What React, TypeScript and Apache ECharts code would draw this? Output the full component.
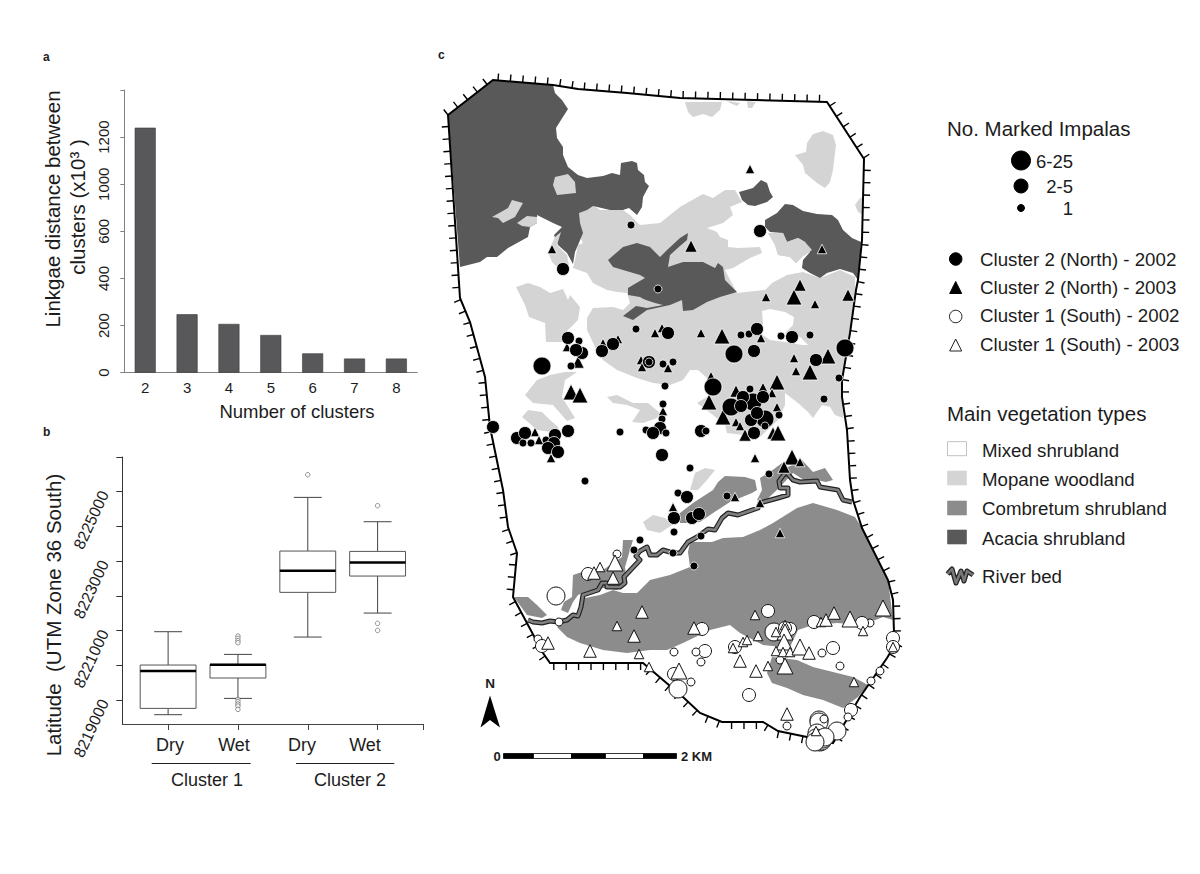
import React, { useEffect, useRef } from "react";
import * as echarts from "echarts";

const FONT = "'Liberation Sans', Arial, sans-serif";
const INK = "#1c1c1c";

// ---------- panel a ----------
const clusterCounts = ["2", "3", "4", "5", "6", "7", "8"];
const linkageValues = [1240, 248, 207, 160, 82, 60, 60];
// The printed axis skips 800: 0, 200, 400, 600, 1000, 1200
const linkageTickLabels = ["0", "200", "400", "600", "1000", "1200", ""];
const printedToAxis = (v: number) => (v > 800 ? v - 200 : v);

// ---------- panel b ---------- [x, low, q1, median, q3, high]
const boxStats = [
  [1, 8218578, 8218760, 8219835, 8220008, 8220968],
  [2, 8219048, 8219634, 8220018, 8220027, 8220315],
  [3, 8220814, 8222101, 8222725, 8223291, 8224837],
  [4, 8221505, 8222571, 8222965, 8223281, 8224136],
];
const boxOutliers = [
  [2, 8220843], [2, 8220776], [2, 8220709], [2, 8220651],
  [2, 8219019], [2, 8218952], [2, 8218885], [2, 8218827], [2, 8218731],
  [3, 8225489], [4, 8224597], [4, 8221208], [4, 8221006],
];
const latitudeTicks = [8219000, 8220000, 8221000, 8222000, 8223000, 8224000, 8225000, 8226000];
const latitudeLabels = [8219000, 8221000, 8223000, 8225000];

// ---------- panel c: map outlines, read in page pixels ----------
const boundary = [
  [448,115],[493,80],[553,85],[578,89],[627,93],[680,98],[827,102],[864,159],[862,240],[858,280],[856,290],
  [850,333],[842,380],[842,397],[847,430],[850,480],[853,500],[862,528],[888,580],[893,600],[894,633],[896,643],
  [887,658],[860,697],[833,743],[807,737],[778,731],[763,722],[722,722],[700,713],[683,697],[643,663],[550,663],
  [543,653],[513,597],[517,553],[508,527],[503,490],[490,427],[485,377],[470,322],[460,298],
];
const acaciaMain = [
  [448,115],[493,80],[553,85],[555,93],[562,100],[568,109],[561,120],[556,128],[557,138],[563,147],[563,155],
  [568,167],[578,175],[587,178],[603,176],[612,173],[620,175],[621,163],[632,161],[637,163],[638,170],[644,175],
  [645,182],[649,186],[643,197],[642,207],[637,215],[629,208],[623,210],[610,210],[593,206],[587,210],[579,213],
  [580,223],[583,233],[578,245],[575,252],[573,264],[567,253],[558,245],[554,235],[562,227],[553,223],[537,215],
  [537,223],[530,227],[528,237],[508,248],[497,257],[487,257],[480,262],[460,267],
];
const acaciaCentral = [
  [608,260],[623,247],[637,243],[650,247],[660,257],[667,250],[680,238],[688,233],[687,240],[680,246],[670,255],
  [668,267],[683,262],[703,262],[715,268],[718,263],[723,267],[725,280],[737,292],[720,297],[707,302],[693,310],
  [683,311],[682,300],[670,305],[647,310],[633,320],[623,316],[636,306],[650,303],[640,297],[628,295],[628,288],
  [633,285],[645,278],[640,275],[623,270],[613,267],
];
const acaciaSmall = [
  [739,192],[753,188],[761,180],[767,183],[770,192],[773,197],[767,202],[755,206],[748,205],[742,200],
];
const acaciaEast = [
  [765,220],[777,213],[785,204],[793,205],[803,211],[817,214],[832,215],[838,220],[843,230],[852,238],[861,242],
  [858,280],[853,273],[840,269],[827,273],[820,278],[810,273],[802,268],[803,260],[810,252],[805,242],[798,238],
  [787,242],[783,233],[770,232],[765,227],
];
const mopaneCore = [
  [578,213],[593,205],[600,210],[623,210],[630,215],[640,225],[660,223],[680,207],[685,204],[703,194],[713,198],
  [725,190],[735,190],[742,202],[730,207],[733,215],[723,223],[707,228],[717,232],[720,237],[728,240],[728,247],
  [738,248],[760,247],[762,253],[750,258],[733,268],[725,270],[737,293],[765,290],[772,283],[787,275],[803,272],
  [820,278],[840,270],[855,277],[855,290],[849,333],[842,380],[843,418],[835,415],[830,407],[822,405],[813,418],
  [808,412],[798,403],[785,393],[785,405],[778,420],[760,437],[727,433],[725,425],[713,415],[697,403],[715,392],
  [707,378],[698,370],[690,370],[683,380],[670,385],[653,383],[637,378],[617,370],[603,360],[595,347],[587,330],
  [587,318],[593,308],[613,307],[623,310],[630,303],[627,293],[617,292],[607,290],[593,283],[587,273],[573,268],
  [575,260],[578,245],[583,243],[578,233],
];
const mopaneWest = [
  [516,287],[528,283],[540,287],[550,293],[563,289],[568,300],[570,295],[580,307],[578,320],[565,333],[567,342],
  [546,342],[545,323],[529,317],[525,305],
];
const mopaneWest2 = [
  [537,380],[550,375],[565,372],[577,372],[565,380],[562,397],[575,418],[567,421],[553,405],[533,403],[525,395],
];
const mopaneWest3 = [[522,417],[528,410],[542,412],[548,418],[558,427],[559,433],[537,430],[528,422]];
const mopaneMid = [
  [607,397],[617,395],[633,403],[648,403],[660,413],[657,418],[643,423],[632,422],[640,410],[627,405],[613,403],
];
const mopaneSouth = [[643,522],[653,515],[665,518],[672,525],[660,533],[647,530]];
const mopaneSouth2 = [[690,490],[695,473],[705,468],[715,470],[707,480],[698,490]];
const mopaneIsle1 = [[768,233],[783,233],[787,242],[798,238],[805,242],[812,250],[802,257],[796,263],[790,257],[778,255],[775,245]];
const mopaneNorth1 = [[685,102],[722,102],[720,110],[712,117],[703,114],[693,117],[688,112]];
const mopaneNorth2 = [[727,101],[740,103],[737,106],[730,103]];
const mopaneNorth3 = [[747,101],[756,102],[752,108],[748,108]];
const mopaneNE = [
  [795,155],[806,152],[807,143],[813,134],[823,131],[833,135],[836,145],[833,170],[830,182],[825,188],[817,183],
  [805,173],[803,165],
];
const mopaneEdge = [[860,198],[864,197],[863,215],[858,212],[855,205]];
// mopane patches that sit on top of the acacia
const isleA = [[555,177],[568,174],[575,182],[576,193],[557,195],[553,185]];
const isleB = [[492,217],[508,208],[512,200],[523,203],[515,217],[503,223],[498,218]];
const isleC = [[517,223],[527,216],[537,217],[537,223],[530,227],[522,226]];
const isleD = [[548,252],[555,237],[561,232],[557,245],[567,255],[569,265],[557,267],[552,262]];
const isleE = [[637,297],[655,303],[663,305],[647,308],[636,306]];
const shrubHole = [
  [762,311],[770,309],[785,312],[794,317],[793,325],[785,333],[800,337],[808,345],[802,345],[785,342],[770,340],
  [760,333],[763,323],
];
const combretumMain = [
  [862,528],[855,517],[837,510],[813,503],[797,508],[773,523],[760,530],[743,537],[723,538],[712,542],[690,542],
  [688,552],[690,567],[670,575],[650,580],[637,593],[623,593],[613,590],[600,595],[585,598],[580,612],[557,627],
  [567,637],[580,643],[603,650],[627,653],[650,650],[667,650],[683,643],[710,630],[730,625],[740,633],[763,645],
  [782,647],[790,647],[798,630],[813,625],[837,623],[863,625],[883,617],[893,620],[888,580],
];
const combretumLower = [
  [772,657],[767,673],[772,683],[787,688],[803,695],[823,700],[843,708],[858,697],[868,685],[853,677],[833,672],
  [813,667],[797,660],
];
const combretumWest = [[514,597],[528,597],[537,605],[547,615],[542,618],[527,615]];
const combretumRiver = [
  [573,575],[585,571],[603,570],[613,563],[622,557],[623,540],[633,540],[630,550],[625,567],[627,583],[617,590],
  [603,588],[585,592],[578,595],[573,602],[568,613],[561,610],[564,602],[572,597],
];
const combretumNorth = [
  [713,490],[718,482],[725,476],[745,477],[755,480],[757,490],[752,493],[730,502],[713,513],[700,522],[687,523],
  [680,523],[680,513],[693,503],
];
const combretumNorth2 = [
  [760,478],[770,472],[782,463],[788,467],[802,460],[813,472],[825,468],[833,480],[826,482],[817,480],[807,482],
  [793,473],[780,487],[763,503],[757,500],[762,490],
];
const riverBed = [
  [528,620],[533,622],[542,623],[550,621],[558,622],[567,620],[573,615],[578,616],[581,607],[583,595],[598,590],
  [602,583],[607,583],[607,587],[620,587],[625,583],[624,577],[640,560],[636,556],[640,551],[647,547],[650,555],
  [657,555],[663,550],[673,553],[680,553],[688,542],[697,537],[708,529],[715,530],[722,518],[728,513],[738,515],
  [758,508],[760,503],[778,498],[788,495],[788,488],[780,488],[779,481],[786,472],[793,480],[800,482],[817,481],
  [820,487],[838,490],[843,500],[852,502],
];

// ---------- panel c: sightings [x, y, size class] ----------
const north2002 = [
  [631,225,1],[563,269,2],[658,289,1],[760,231,2],[741,335,1],[749,334,1],[757,329,2],[781,336,1],[792,337,2],
  [810,335,1],[845,348,3],[734,354,3],[754,351,2],[816,360,2],[839,378,1],[824,399,1],[713,387,3],[750,389,1],
  [753,402,3],[731,407,3],[763,397,2],[743,397,2],[741,406,2],[765,419,3],[751,420,2],[757,413,2],[765,426,1],
  [754,433,2],[779,415,1],[701,431,2],[706,431,1],[690,468,1],[769,474,1],[673,362,1],[636,329,1],[668,333,2],
  [568,338,2],[579,341,1],[582,353,2],[576,350,2],[571,366,1],[542,366,3],[602,351,2],[613,344,2],[649,362,2],
  [649,362,1],[663,364,1],[665,386,1],[663,404,1],[662,419,1],[660,428,2],[646,430,1],[653,433,2],[666,433,1],
  [662,455,2],[620,432,1],[585,481,1],[568,431,2],[493,427,2],[517,438,2],[525,433,2],[523,443,1],[531,443,1],
  [546,440,1],[555,435,2],[554,443,2],[548,448,2],[558,452,2],[678,493,1],[687,497,2],[674,518,2],[692,518,2],
  [699,514,2],[674,532,1],[640,540,1],[634,550,1],[673,553,1],[727,496,1],[701,536,1],[694,566,1],
];
const north2003 = [
  [552,249,1],[750,169,1],[691,246,2],[822,249,1],[800,285,2],[766,297,1],[794,297,3],[848,295,2],[815,304,1],
  [701,333,1],[722,336,3],[761,338,1],[794,358,1],[796,371,1],[828,356,3],[810,372,3],[711,376,1],[777,382,3],
  [736,391,2],[709,402,3],[763,387,1],[772,393,1],[777,407,1],[723,417,3],[736,422,1],[740,426,1],[745,435,2],
  [773,433,2],[778,433,3],[755,458,1],[792,457,3],[784,467,2],[800,462,1],[535,432,1],[539,440,1],[551,458,1],
  [571,392,3],[580,395,3],[578,362,2],[603,343,1],[618,339,1],[655,333,1],[662,328,1],[641,360,1],[642,367,1],
  [668,368,1],[663,411,1],[567,347,1],[673,507,1],[735,497,1],[760,503,1],[780,533,1],
];
const south2002 = [
  [617,554,1],[588,574,2],[556,596,3],[559,622,1],[538,639,1],[542,646,2],[674,652,1],[702,629,2],[705,651,2],
  [696,652,1],[701,662,1],[674,674,2],[691,682,1],[678,689,3],[735,647,2],[768,611,2],[774,632,3],[814,622,2],
  [833,648,2],[822,653,1],[840,666,1],[780,660,1],[870,623,1],[862,623,2],[749,695,2],[893,638,2],[893,647,2],
  [871,681,1],[880,671,1],[851,710,2],[848,717,1],[837,731,3],[787,726,1],[819,720,3],[819,722,3],[824,719,1],
  [817,733,3],[816,738,3],[818,740,3],[820,742,3],[822,741,3],[823,739,3],[825,737,3],[815,742,3],[790,629,2],[785,628,2],
];
const south2003 = [
  [615,563,3],[600,567,1],[594,573,2],[613,578,2],[642,612,2],[617,626,1],[634,636,2],[590,651,2],[639,654,1],
  [548,643,2],[649,667,1],[679,671,3],[694,628,2],[755,615,1],[743,642,1],[747,640,1],[733,648,1],[758,636,1],
  [785,625,1],[785,632,3],[776,632,1],[784,642,3],[776,651,1],[783,652,1],[790,652,1],[800,647,3],[809,653,2],
  [785,666,3],[740,661,2],[756,671,2],[768,666,1],[821,622,1],[826,620,2],[834,613,2],[850,619,3],[883,608,3],
  [863,631,1],[893,647,1],[854,682,1],[787,714,2],[816,731,1],
];

const sizeLegend = ["6-25", "2-5", "1"];
const seriesLegend = ["Cluster 2 (North) - 2002", "Cluster 2 (North) - 2003", "Cluster 1 (South) - 2002", "Cluster 1 (South) - 2003"];
const vegetationLegend = ["Mixed shrubland", "Mopane woodland", "Combretum shrubland", "Acacia shrubland"];

const C_MOPANE = "#d4d4d4";
const C_COMBRETUM = "#8c8c8c";
const C_ACACIA = "#595959";

const CIRCLE_SIZE: Record<number, number> = { 1: 8, 2: 13, 3: 18 };
const TRI_SIZE: Record<number, number> = { 1: 9.5, 2: 12.5, 3: 16 };

function polygonSeries(name: string, polys: number[][][], fill: string) {
  return {
    type: "custom", name, xAxisIndex: 2, yAxisIndex: 2, silent: true, clip: false,
    data: polys.map((_, i) => [i]),
    renderItem: (params: any, api: any) => ({
      type: "polygon",
      shape: { points: polys[params.dataIndex].map((p) => api.coord(p)) },
      style: { fill },
    }),
  };
}

function riverSeries(name: string, width: number, stroke: string) {
  return {
    type: "custom", name, xAxisIndex: 2, yAxisIndex: 2, silent: true, clip: false,
    data: [[0]],
    renderItem: (_: any, api: any) => ({
      type: "polyline",
      shape: { points: riverBed.map((p) => api.coord(p)) },
      style: { stroke, lineWidth: width, fill: "none", lineJoin: "round" },
    }),
  };
}

function boundaryChildren(api: any) {
  const pts = [...boundary, boundary[0]].map((p) => api.coord(p) as number[]);
  const kids: any[] = [{ type: "polyline", shape: { points: pts }, style: { stroke: "#000", lineWidth: 2, fill: "none" } }];
  const step = 12.4;
  let carry = 0;
  for (let i = 0; i + 1 < pts.length; i++) {
    const [ax, ay] = pts[i];
    const [bx, by] = pts[i + 1];
    const len = Math.hypot(bx - ax, by - ay);
    const ux = (bx - ax) / len, uy = (by - ay) / len;
    let d = carry;
    while (d < len) {
      const x = ax + ux * d, y = ay + uy * d;
      kids.push({
        type: "line",
        shape: { x1: x, y1: y, x2: x + uy * 7, y2: y - ux * 7 },
        style: { stroke: "#000", lineWidth: 1.4 },
      });
      d += step;
    }
    carry = d - len;
  }
  return kids;
}

function markerSeries(name: string, data: number[][], symbol: string, sizes: Record<number, number>, fill: string, border: string, bw: number) {
  return {
    type: "scatter", name, xAxisIndex: 2, yAxisIndex: 2, symbol, clip: false, silent: true,
    symbolSize: (v: number[]) => sizes[v[2]],
    itemStyle: { color: fill, borderColor: border, borderWidth: bw, opacity: 1 },
    data,
  };
}

const txt = (text: string, x: number, y: number, fontSize: number, extra: any = {}, rot = 0) => ({
  type: "text", x, y, rotation: rot, silent: true,
  style: {
    text, fontSize, fontFamily: FONT, fill: INK, fontWeight: extra.weight || "normal",
    align: extra.align || "left", verticalAlign: "middle",
    textAlign: extra.align || "left", textVerticalAlign: "middle",
  },
});

const tri = (cx: number, cy: number, s: number, fill: string, stroke: string) => ({
  type: "polygon", silent: true,
  shape: { points: [[cx, cy - s / 2], [cx + s / 2, cy + s / 2], [cx - s / 2, cy + s / 2]] },
  style: { fill, stroke, lineWidth: 1 },
});
const dot = (cx: number, cy: number, d: number, fill: string, stroke: string) => ({
  type: "circle", silent: true, shape: { cx, cy, r: d / 2 }, style: { fill, stroke, lineWidth: 1 },
});
const swatch = (y: number, fill: string, stroke: string) => ({
  type: "rect", silent: true, shape: { x: 947.5, y, width: 19, height: 14 }, style: { fill, stroke, lineWidth: 0.6 },
});
const bar = (x: number, w: number, fill: string) => ({
  type: "rect", silent: true, shape: { x, y: 753.5, width: w, height: 5 }, style: { fill, stroke: "#000", lineWidth: 0.8 },
});

function graphics() {
  const iconRiver = [[947.5,574],[952,569],[956,583],[961,571],[964,581],[967,571],[973,575]];
  return [
    txt("a", 43, 57, 12, { weight: "bold" }),
    txt("b", 43, 432, 12, { weight: "bold" }),
    txt("c", 438, 55, 12, { weight: "bold" }),

    txt("Linkgae distance between", 52, 209, 20.5, { align: "center" }, Math.PI / 2),
    txt("clusters (x10³ )", 77, 207, 20.5, { align: "center" }, Math.PI / 2),
    txt("Number of clusters", 297, 411, 18.5, { align: "center" }),

    txt("Latitude  (UTM Zone 36 South)", 53, 615, 20.5, { align: "center" }, Math.PI / 2),
    txt("Dry", 170, 745, 18, { align: "center" }),
    txt("Wet", 234, 745, 18, { align: "center" }),
    txt("Dry", 302, 745, 18, { align: "center" }),
    txt("Wet", 365, 745, 18, { align: "center" }),
    { type: "line", silent: true, shape: { x1: 151.7, y1: 763.5, x2: 250.7, y2: 763.5 }, style: { stroke: "#222", lineWidth: 1 } },
    { type: "line", silent: true, shape: { x1: 296, y1: 763.5, x2: 394.3, y2: 763.5 }, style: { stroke: "#222", lineWidth: 1 } },
    txt("Cluster 1", 207, 780, 18, { align: "center" }),
    txt("Cluster 2", 350, 780, 18, { align: "center" }),

    txt("No. Marked Impalas", 947, 128, 20.5),
    dot(1021, 160.5, 19, "#000", "#000"),
    dot(1021, 186, 14, "#000", "#000"),
    dot(1021, 208, 7, "#000", "#000"),
    txt(sizeLegend[0], 1073, 161, 18.5, { align: "right" }),
    txt(sizeLegend[1], 1073, 186, 18.5, { align: "right" }),
    txt(sizeLegend[2], 1073, 208, 18.5, { align: "right" }),

    dot(955.7, 259, 12.5, "#000", "#000"),
    tri(955.7, 287.5, 12, "#000", "#000"),
    dot(955.7, 316.5, 12.5, "#fff", "#222"),
    tri(955.7, 345, 12, "#fff", "#222"),
    txt(seriesLegend[0], 980, 259, 18.7),
    txt(seriesLegend[1], 980, 287, 18.7),
    txt(seriesLegend[2], 980, 315.5, 18.7),
    txt(seriesLegend[3], 980, 344, 18.7),

    txt("Main vegetation types", 947, 413, 20.5),
    swatch(441.7, "#fff", "#999"),
    swatch(471, C_MOPANE, C_MOPANE),
    swatch(501, C_COMBRETUM, C_COMBRETUM),
    swatch(530, C_ACACIA, C_ACACIA),
    txt(vegetationLegend[0], 982, 450, 18.7),
    txt(vegetationLegend[1], 982, 479, 18.7),
    txt(vegetationLegend[2], 982, 508.5, 18.7),
    txt(vegetationLegend[3], 982, 538, 18.7),
    { type: "polyline", silent: true, shape: { points: iconRiver }, style: { stroke: "#222", lineWidth: 5, fill: "none", lineJoin: "round" } },
    { type: "polyline", silent: true, shape: { points: iconRiver }, style: { stroke: "#777", lineWidth: 2.6, fill: "none", lineJoin: "round" } },
    txt("River bed", 982, 576, 18.7),

    txt("N", 490, 683, 13.5, { weight: "bold", align: "center" }),
    { type: "polygon", silent: true, shape: { points: [[490,695.5],[500,727.5],[490,720],[480.5,727.5]] }, style: { fill: "#000" } },
    bar(503.5, 30, "#000"), bar(533.5, 38, "#fff"), bar(571.5, 34, "#000"), bar(605.5, 38, "#fff"), bar(643.5, 33, "#000"),
    txt("0", 497, 756, 13, { weight: "bold", align: "center" }),
    txt("2 KM", 681, 756, 13, { weight: "bold" }),
  ];
}

function App() {
  const ref = useRef<HTMLDivElement>(null);
  useEffect(() => {
    const chart = echarts.init(ref.current!, undefined, { renderer: "svg" });
    chart.setOption({
      animation: false,
      backgroundColor: "#fff",
      textStyle: { fontFamily: FONT },
      grid: [
        { left: 124.3, top: 90, width: 293, height: 282.7 },
        { left: 122.3, top: 457, width: 300.7, height: 267 },
        { left: 440, top: 70, width: 465, height: 685 },
      ],
      xAxis: [
        {
          type: "category", gridIndex: 0, data: clusterCounts,
          axisLine: { lineStyle: { color: "#808080", width: 1 } },
          axisTick: { length: 4, lineStyle: { color: "#808080" } },
          axisLabel: { color: INK, fontSize: 15, margin: 7, fontFamily: FONT },
        },
        {
          type: "value", gridIndex: 1, min: 0.344, max: 4.65, splitLine: { show: false },
          axisLine: { onZero: false, lineStyle: { color: "#444", width: 1 } },
          axisTick: { length: 6, customValues: [1, 2, 3, 4, 4.65], lineStyle: { color: "#444" } },
          axisLabel: { show: false },
        },
        { type: "value", gridIndex: 2, min: 440, max: 905, show: false, splitLine: { show: false } },
      ],
      yAxis: [
        {
          type: "value", gridIndex: 0, min: 0, max: 1200, interval: 200, splitLine: { show: false },
          axisLine: { show: true, lineStyle: { color: "#808080", width: 1 } },
          axisTick: { show: true, length: 4, lineStyle: { color: "#808080" } },
          axisLabel: {
            color: INK, fontSize: 15, rotate: 90, margin: 13, fontFamily: FONT,
            formatter: (v: number) => linkageTickLabels[Math.round(v / 200)],
          },
        },
        {
          type: "value", gridIndex: 1, min: 8218310, max: 8226000, splitLine: { show: false },
          axisLine: { show: true, onZero: false, lineStyle: { color: "#333", width: 1 } },
          axisTick: { show: true, length: 6, customValues: latitudeTicks, lineStyle: { color: "#333" } },
          axisLabel: { color: INK, fontSize: 16, rotate: 65, margin: 18, fontFamily: FONT, customValues: latitudeLabels, formatter: (v: number) => String(v) },
        },
        { type: "value", gridIndex: 2, min: 70, max: 755, inverse: true, show: false, splitLine: { show: false } },
      ],
      series: [
        {
          type: "bar", name: "Linkage distance", xAxisIndex: 0, yAxisIndex: 0, barWidth: 21, silent: true,
          itemStyle: { color: "#58585a", borderColor: "#3a3a3a", borderWidth: 0.6 },
          data: linkageValues.map(printedToAxis),
        },
        {
          type: "custom", name: "Latitude boxes", xAxisIndex: 1, yAxisIndex: 1, silent: true, clip: false,
          data: boxStats, encode: { x: 0, y: [1, 2, 3, 4, 5] },
          renderItem: (_: any, api: any) => {
            const x = api.value(0);
            const [low, q1, med, q3, high] = [1, 2, 3, 4, 5].map((i) => api.coord([x, api.value(i)])[1]);
            const cx = api.coord([x, 8220000])[0];
            const bw = api.size([0.8, 0])[0] / 2;
            const cw = api.size([0.4, 0])[0] / 2;
            const line = (x1: number, y1: number, x2: number, y2: number, w = 1, c = "#444") => ({
              type: "line", shape: { x1, y1, x2, y2 }, style: { stroke: c, lineWidth: w },
            });
            return {
              type: "group",
              children: [
                line(cx, high, cx, q3), line(cx, q1, cx, low),
                line(cx - cw, high, cx + cw, high), line(cx - cw, low, cx + cw, low),
                { type: "rect", shape: { x: cx - bw, y: q3, width: 2 * bw, height: q1 - q3 }, style: { fill: "#fff", stroke: "#555", lineWidth: 1 } },
                line(cx - bw, med, cx + bw, med, 2.5, "#000"),
              ],
            };
          },
        },
        {
          type: "scatter", name: "Outliers", xAxisIndex: 1, yAxisIndex: 1, symbol: "circle", symbolSize: 4.5, silent: true,
          itemStyle: { color: "#fff", borderColor: "#555", borderWidth: 0.8 }, data: boxOutliers,
        },
        polygonSeries("Mopane woodland", [mopaneCore, mopaneWest, mopaneWest2, mopaneWest3, mopaneMid, mopaneSouth, mopaneSouth2, mopaneIsle1, mopaneNorth1, mopaneNorth2, mopaneNorth3, mopaneNE, mopaneEdge], C_MOPANE),
        polygonSeries("Acacia shrubland", [acaciaMain, acaciaCentral, acaciaSmall, acaciaEast], C_ACACIA),
        polygonSeries("Mopane patches", [isleA, isleB, isleC, isleD, isleE, mopaneIsle1], C_MOPANE),
        polygonSeries("Mixed shrubland", [shrubHole], "#fff"),
        polygonSeries("Combretum shrubland", [combretumMain, combretumLower, combretumWest, combretumRiver, combretumNorth, combretumNorth2], C_COMBRETUM),
        riverSeries("River bed outline", 5, "#222"),
        riverSeries("River bed", 2.6, "#808080"),
        {
          type: "custom", name: "Boundary", xAxisIndex: 2, yAxisIndex: 2, silent: true, clip: false, data: [[0]],
          renderItem: (_: any, api: any) => ({ type: "group", children: boundaryChildren(api) }),
        },
        markerSeries("Cluster 1 (South) - 2002", south2002, "circle", CIRCLE_SIZE, "#fff", "#111", 1),
        markerSeries("Cluster 1 (South) - 2003", south2003, "triangle", TRI_SIZE, "#fff", "#111", 1),
        markerSeries("Cluster 2 (North) - 2003", north2003, "triangle", TRI_SIZE, "#000", "#fff", 0.8),
        markerSeries("Cluster 2 (North) - 2002", north2002, "circle", CIRCLE_SIZE, "#000", "#fff", 0.8),
      ],
      graphic: { elements: graphics() },
    });
    return () => chart.dispose();
  }, []);
  return <div ref={ref} style={{ position: "absolute", left: 0, top: 0, width: 1200, height: 874 }} />;
}

export default App;
